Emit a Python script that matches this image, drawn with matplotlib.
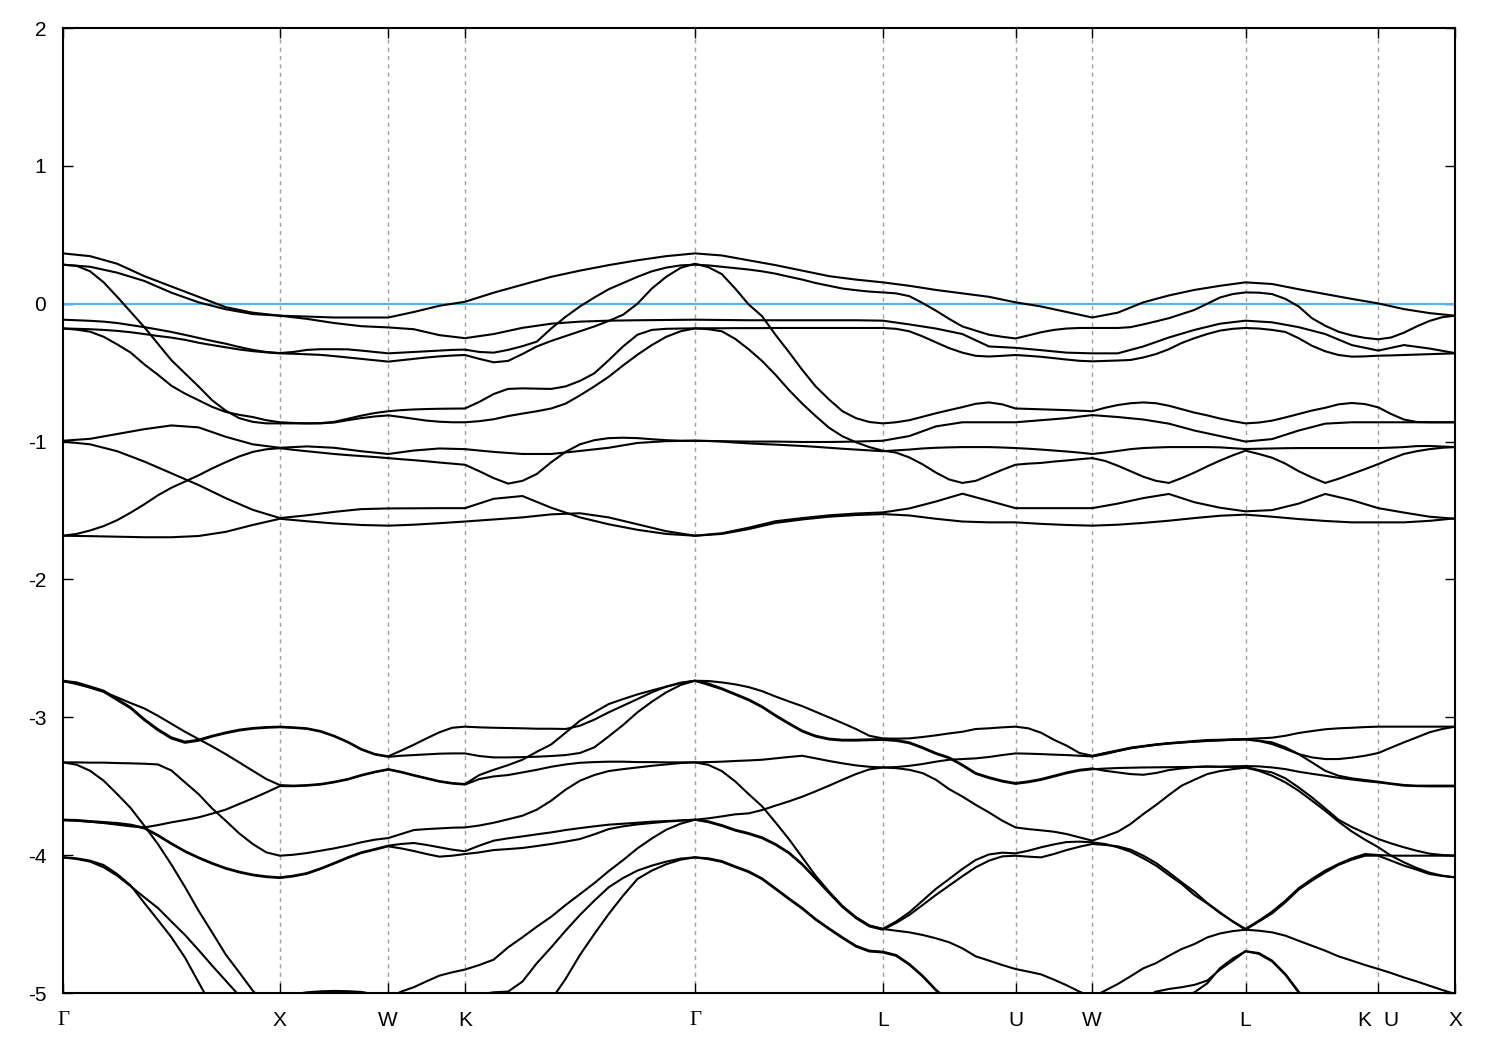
import numpy as np
import matplotlib
matplotlib.use("Agg")
import matplotlib.pyplot as plt
from matplotlib import transforms

# ---- k-path ----
kpoint_labels = ["Γ", "X", "W", "K", "Γ", "L", "U", "W", "L", "K|U", "X"]
segment_lengths = [1.0, 0.5, 0.35355, 1.06066, 0.86603, 0.61237, 0.35355, 0.70711, 0.61237, 0.35355]
coarse_samples = [8, 4, 3, 8, 7, 5, 3, 6, 5, 3]
fine_samples = [16, 8, 6, 16, 14, 10, 6, 12, 10, 6]

# ---- bands (eV) on the coarse sampling ----
up1 = [0.365, 0.345, 0.29, 0.20, 0.125, 0.05, -0.025, -0.065, -0.087,
       -0.093, -0.10, -0.10, -0.10,
       -0.06, -0.015, 0.014,
       0.08, 0.138, 0.195, 0.24, 0.28, 0.315, 0.345, 0.365,
       0.35, 0.315, 0.28, 0.24, 0.20, 0.175, 0.155,
       0.13, 0.10, 0.075, 0.05, 0.01,
       -0.02, -0.06, -0.10,
       -0.065, 0.01, 0.06, 0.10, 0.13, 0.155,
       0.143, 0.105, 0.07, 0.035, 0.002,
       -0.039, -0.068, -0.087]
up2 = [0.283, 0.268, 0.225, 0.165, 0.08, 0.01, -0.04, -0.075, -0.087,
       -0.11, -0.14, -0.163, -0.172,
       -0.185, -0.228, -0.25,
       -0.22, -0.175, -0.145, -0.13, -0.123, -0.12, -0.118, -0.116,
       -0.118, -0.12, -0.12, -0.12, -0.12, -0.12, -0.123,
       -0.15, -0.18, -0.22, -0.31, -0.32,
       -0.337, -0.355, -0.36,
       -0.36, -0.31, -0.245, -0.19, -0.145, -0.123,
       -0.135, -0.17, -0.22, -0.30, -0.34,
       -0.30, -0.325, -0.358]
up7 = [-0.994, -0.98, -0.945, -0.91, -0.883, -0.897, -0.965, -1.02, -1.045,
       -1.035, -1.045, -1.07, -1.09,
       -1.065, -1.05, -1.055,
       -1.075, -1.09, -1.09, -1.068, -1.045, -1.01, -0.997, -0.994,
       -0.997, -1.0, -1.0, -1.003, -1.003, -1.0, -0.994,
       -0.96, -0.89, -0.86, -0.86, -0.86,
       -0.845, -0.83, -0.808,
       -0.822, -0.84, -0.87, -0.92, -0.96, -1.0,
       -0.982, -0.92, -0.87, -0.86, -0.86,
       -0.86, -0.86, -0.86]
up8 = [-1.0, -1.02, -1.07, -1.145, -1.23, -1.315, -1.41, -1.495, -1.555,
       -1.535, -1.51, -1.49, -1.485,
       -1.484, -1.483, -1.483,
       -1.415, -1.395, -1.48, -1.55, -1.60, -1.64, -1.67, -1.683,
       -1.665, -1.625, -1.578, -1.555, -1.535, -1.522, -1.514,
       -1.485, -1.435, -1.378, -1.43, -1.483,
       -1.483, -1.483, -1.483,
       -1.45, -1.41, -1.38, -1.44, -1.48, -1.506,
       -1.497, -1.45, -1.38, -1.425, -1.483,
       -1.515, -1.545, -1.56]
up10 = [-1.683, -1.686, -1.69, -1.694, -1.694, -1.685, -1.655, -1.605, -1.56,
        -1.578, -1.594, -1.605, -1.61,
        -1.603, -1.592, -1.58,
        -1.565, -1.55, -1.528, -1.52, -1.55, -1.60, -1.65, -1.683,
        -1.67, -1.635, -1.59, -1.565, -1.545, -1.533, -1.526,
        -1.536, -1.56, -1.58, -1.586, -1.586,
        -1.597, -1.605, -1.61,
        -1.603, -1.59, -1.574, -1.555, -1.538, -1.53,
        -1.545, -1.562, -1.576, -1.586, -1.586,
        -1.586, -1.575, -1.557]

# ---- bands (eV) on the fine sampling ----
up3 = [0.283, 0.275, 0.235, 0.155, 0.05, -0.06, -0.17, -0.29, -0.41, -0.505, -0.60, -0.70, -0.775, -0.83, -0.857, -0.868, -0.868,
       -0.868, -0.868, -0.866, -0.857, -0.835, -0.812, -0.793, -0.78,
       -0.772, -0.767, -0.764, -0.762, -0.761, -0.76,
       -0.712, -0.655, -0.618, -0.614, -0.616, -0.618, -0.60, -0.56, -0.505, -0.41, -0.31, -0.225, -0.19, -0.182, -0.18, -0.179,
       -0.178, -0.178, -0.177, -0.177, -0.177, -0.176, -0.176, -0.176, -0.176, -0.176, -0.176, -0.176, -0.176, -0.176,
       -0.182, -0.20, -0.237, -0.28, -0.322, -0.355, -0.378, -0.383, -0.378, -0.372,
       -0.378, -0.385, -0.395, -0.405, -0.414, -0.418,
       -0.415, -0.412, -0.408, -0.39, -0.365, -0.33, -0.285, -0.25, -0.22, -0.195, -0.182, -0.176,
       -0.18, -0.19, -0.205, -0.25, -0.305, -0.345, -0.372, -0.384, -0.382, -0.377,
       -0.375, -0.372, -0.369, -0.366, -0.363, -0.36]
up4 = [-0.116, -0.12, -0.124, -0.13, -0.14, -0.155, -0.17, -0.187, -0.205, -0.226, -0.248, -0.27, -0.29, -0.314, -0.335, -0.35, -0.358,
       -0.35, -0.335, -0.33, -0.33, -0.331, -0.34, -0.35, -0.36,
       -0.355, -0.35, -0.345, -0.34, -0.335, -0.333,
       -0.35, -0.355, -0.335, -0.308, -0.275, -0.18, -0.095, -0.02, 0.045, 0.105, 0.15, 0.195, 0.235, 0.262, 0.278, 0.283,
       0.278, 0.268, 0.258, 0.248, 0.235, 0.218, 0.196, 0.175, 0.15, 0.13, 0.11, 0.098, 0.088, 0.082,
       0.075, 0.055, 0.005, -0.05, -0.11, -0.165, -0.195, -0.225, -0.24, -0.252,
       -0.23, -0.207, -0.19, -0.18, -0.176, -0.176,
       -0.176, -0.176, -0.17, -0.15, -0.128, -0.105, -0.075, -0.045, 0.0, 0.045, 0.07, 0.082,
       0.08, 0.07, 0.035, -0.02, -0.105, -0.16, -0.203, -0.23, -0.248, -0.258,
       -0.245, -0.21, -0.165, -0.125, -0.098, -0.087]
up5 = [-0.179, -0.182, -0.185, -0.19, -0.197, -0.207, -0.22, -0.234, -0.246, -0.262, -0.283, -0.30, -0.316, -0.332, -0.344, -0.353, -0.36,
       -0.363, -0.367, -0.371, -0.38, -0.39, -0.40, -0.41, -0.42,
       -0.41, -0.40, -0.39, -0.382, -0.376, -0.372,
       -0.40, -0.425, -0.415, -0.365, -0.31, -0.27, -0.235, -0.20, -0.165, -0.125, -0.08, 0.0, 0.11, 0.195, 0.26, 0.29,
       0.265, 0.215, 0.11, -0.005, -0.09, -0.225, -0.35, -0.48, -0.60, -0.695, -0.78, -0.83, -0.858, -0.868,
       -0.86, -0.845, -0.82, -0.795, -0.772, -0.75, -0.726, -0.716, -0.73, -0.76,
       -0.763, -0.766, -0.769, -0.772, -0.776, -0.78,
       -0.755, -0.735, -0.722, -0.716, -0.722, -0.74, -0.765, -0.79, -0.81, -0.833, -0.852, -0.868,
       -0.862, -0.848, -0.825, -0.80, -0.775, -0.755, -0.73, -0.72, -0.728, -0.752,
       -0.80, -0.84, -0.858, -0.86, -0.86, -0.86]
up6 = [-0.18, -0.188, -0.203, -0.24, -0.295, -0.355, -0.44, -0.515, -0.595, -0.652, -0.70, -0.748, -0.785, -0.806, -0.822, -0.845, -0.86,
       -0.865, -0.868, -0.868, -0.862, -0.845, -0.83, -0.818, -0.81,
       -0.822, -0.835, -0.848, -0.856, -0.86, -0.86,
       -0.852, -0.838, -0.815, -0.797, -0.78, -0.76, -0.725, -0.665, -0.60, -0.53, -0.448, -0.37, -0.30, -0.24, -0.20, -0.179,
       -0.185, -0.20, -0.255, -0.33, -0.415, -0.515, -0.625, -0.725, -0.815, -0.90, -0.962, -1.005, -1.04, -1.066,
       -1.08, -1.115, -1.165, -1.225, -1.275, -1.30, -1.285, -1.245, -1.205, -1.168,
       -1.16, -1.155, -1.145, -1.137, -1.128, -1.12,
       -1.14, -1.175, -1.215, -1.255, -1.285, -1.30, -1.265, -1.225, -1.18, -1.138, -1.10, -1.066,
       -1.09, -1.117, -1.16, -1.215, -1.26, -1.30, -1.27, -1.235, -1.20, -1.163,
       -1.125, -1.09, -1.07, -1.055, -1.045, -1.04]
up9 = [-1.683, -1.67, -1.645, -1.613, -1.57, -1.515, -1.455, -1.39, -1.335, -1.29, -1.245, -1.195, -1.15, -1.108, -1.075, -1.056, -1.048,
       -1.06, -1.07, -1.08, -1.09, -1.098, -1.105, -1.112, -1.12,
       -1.128, -1.135, -1.143, -1.152, -1.16, -1.168,
       -1.215, -1.265, -1.305, -1.285, -1.235, -1.15, -1.075, -1.02, -0.99, -0.975, -0.972, -0.975, -0.983, -0.99, -0.994, -0.994,
       -0.996, -1.0, -1.007, -1.013, -1.018, -1.022, -1.027, -1.032, -1.038, -1.045, -1.052, -1.058, -1.064, -1.07,
       -1.064, -1.058, -1.05, -1.045, -1.042, -1.04, -1.04, -1.04, -1.043, -1.047,
       -1.052, -1.058, -1.065, -1.072, -1.08, -1.09,
       -1.08, -1.068, -1.055, -1.047, -1.043, -1.04, -1.04, -1.04, -1.04, -1.042, -1.048, -1.054,
       -1.052, -1.05, -1.048, -1.047, -1.047, -1.047, -1.047, -1.047, -1.047, -1.047,
       -1.044, -1.04, -1.033, -1.032, -1.036, -1.04]

lo1 = [-2.735, -2.747, -2.776, -2.807, -2.868, -2.928, -3.013, -3.086, -3.146, -3.177, -3.163, -3.134, -3.11, -3.09, -3.078, -3.071, -3.068,
       -3.073, -3.08, -3.10, -3.134, -3.177, -3.23, -3.266, -3.283,
       -3.242, -3.199, -3.153, -3.109, -3.076, -3.068,
       -3.073, -3.076, -3.078, -3.08, -3.083, -3.083, -3.085, -3.061, -3.017, -2.964, -2.916, -2.868, -2.819, -2.778, -2.749, -2.735,
       -2.737, -2.747, -2.761, -2.781, -2.81, -2.849, -2.885, -2.919, -2.96, -3.001, -3.042, -3.085, -3.134, -3.153,
       -3.155, -3.153, -3.143, -3.131, -3.117, -3.105, -3.085, -3.08, -3.073, -3.068,
       -3.08, -3.112, -3.163, -3.206, -3.259, -3.279,
       -3.259, -3.24, -3.22, -3.208, -3.196, -3.187, -3.18, -3.172, -3.165, -3.163, -3.16, -3.158,
       -3.153, -3.148, -3.134, -3.114, -3.10, -3.087, -3.08, -3.076, -3.071, -3.068,
       -3.068, -3.068, -3.068, -3.068, -3.068, -3.068]
lo2 = [-2.74, -2.755, -2.785, -2.815, -2.876, -2.936, -3.021, -3.094, -3.154, -3.185, -3.17, -3.14, -3.116, -3.096, -3.083, -3.076, -3.072,
       -3.077, -3.084, -3.104, -3.138, -3.181, -3.234, -3.27, -3.287,
       -3.279, -3.274, -3.269, -3.264, -3.262, -3.262,
       -3.281, -3.291, -3.291, -3.289, -3.286, -3.281, -3.274, -3.259, -3.218, -3.139, -3.056, -2.964, -2.887, -2.819, -2.766, -2.735,
       -2.755, -2.79, -2.83, -2.87, -2.921, -2.984, -3.042, -3.097, -3.134, -3.155, -3.163, -3.163, -3.16, -3.158,
       -3.165, -3.182, -3.218, -3.259, -3.291, -3.344, -3.404, -3.435, -3.46, -3.477,
       -3.465, -3.448, -3.424, -3.40, -3.381, -3.371,
       -3.388, -3.40, -3.412, -3.417, -3.404, -3.383, -3.371, -3.361, -3.356, -3.359, -3.356, -3.354,
       -3.356, -3.364, -3.376, -3.395, -3.41, -3.424, -3.439, -3.451, -3.463, -3.472,
       -3.484, -3.496, -3.499, -3.501, -3.501, -3.501]
lo3 = [-2.735, -2.759, -2.783, -2.815, -2.856, -2.897, -2.936, -2.989, -3.047, -3.105, -3.158, -3.211, -3.267, -3.327, -3.388, -3.448, -3.492,
       -3.496, -3.492, -3.484, -3.468, -3.448, -3.419, -3.395, -3.376,
       -3.395, -3.419, -3.441, -3.463, -3.477, -3.484,
       -3.419, -3.381, -3.347, -3.308, -3.25, -3.197, -3.112, -3.025, -2.964, -2.904, -2.868, -2.834, -2.805, -2.778, -2.752, -2.735,
       -2.765, -2.796, -2.836, -2.876, -2.927, -2.99, -3.048, -3.103, -3.14, -3.161, -3.169, -3.169, -3.166, -3.164,
       -3.171, -3.188, -3.224, -3.265, -3.297, -3.35, -3.41, -3.441, -3.466, -3.483,
       -3.471, -3.454, -3.43, -3.406, -3.387, -3.377,
       -3.372, -3.368, -3.366, -3.364, -3.363, -3.362, -3.361, -3.36, -3.359, -3.359, -3.36, -3.36,
       -3.383, -3.40, -3.443, -3.509, -3.581, -3.661, -3.743, -3.796, -3.84, -3.883,
       -3.915, -3.943, -3.968, -3.989, -3.999, -4.004]
lo4 = [-3.743, -3.75, -3.757, -3.767, -3.779, -3.791, -3.799, -3.782, -3.762, -3.745, -3.726, -3.699, -3.67, -3.629, -3.588, -3.545, -3.499,
       -3.50, -3.496, -3.488, -3.472, -3.452, -3.423, -3.399, -3.38,
       -3.399, -3.423, -3.445, -3.467, -3.481, -3.488,
       -3.448, -3.429, -3.419, -3.40, -3.381, -3.359, -3.342, -3.33, -3.325, -3.322, -3.322, -3.325, -3.325, -3.327, -3.327, -3.327,
       -3.325, -3.322, -3.317, -3.313, -3.308, -3.298, -3.288, -3.279, -3.298, -3.317, -3.334, -3.349, -3.359, -3.364,
       -3.361, -3.352, -3.339, -3.322, -3.308, -3.303, -3.298, -3.288, -3.274, -3.262,
       -3.264, -3.267, -3.271, -3.274, -3.279, -3.284,
       -3.267, -3.245, -3.225, -3.211, -3.199, -3.189, -3.182, -3.177, -3.172, -3.168, -3.163, -3.16,
       -3.172, -3.194, -3.23, -3.267, -3.291, -3.303, -3.303, -3.293, -3.279, -3.259,
       -3.22, -3.182, -3.146, -3.109, -3.085, -3.068]
lo5 = [-3.327, -3.327, -3.329, -3.329, -3.332, -3.334, -3.337, -3.342, -3.386, -3.472, -3.557, -3.661, -3.75, -3.842, -3.919, -3.98, -4.004,
       -3.997, -3.985, -3.968, -3.951, -3.931, -3.907, -3.888, -3.876,
       -3.847, -3.818, -3.811, -3.806, -3.801, -3.799,
       -3.785, -3.765, -3.74, -3.714, -3.67, -3.605, -3.525, -3.46, -3.419, -3.39, -3.376, -3.364, -3.352, -3.342, -3.332, -3.327,
       -3.345, -3.39, -3.465, -3.557, -3.645, -3.762, -3.883, -4.016, -4.15, -4.265, -4.37, -4.45, -4.51, -4.535,
       -4.548, -4.56, -4.579, -4.603, -4.632, -4.676, -4.734, -4.765, -4.797, -4.826,
       -4.845, -4.865, -4.903, -4.944, -4.99, -5.031,
       -4.983, -4.935, -4.879, -4.821, -4.783, -4.73, -4.681, -4.645, -4.597, -4.568, -4.551, -4.541,
       -4.548, -4.56, -4.584, -4.621, -4.657, -4.693, -4.734, -4.765, -4.797, -4.826,
       -4.855, -4.887, -4.916, -4.947, -4.978, -5.007]
lo6 = [-3.743, -3.745, -3.753, -3.76, -3.767, -3.779, -3.801, -3.854, -3.914, -3.97, -4.016, -4.057, -4.093, -4.12, -4.141, -4.154, -4.161,
       -4.149, -4.13, -4.096, -4.057, -4.016, -3.98, -3.956, -3.931,
       -3.919, -3.912, -3.926, -3.943, -3.96, -3.972,
       -3.931, -3.895, -3.878, -3.864, -3.849, -3.835, -3.818, -3.804, -3.791, -3.779, -3.772, -3.765, -3.757, -3.753, -3.748, -3.743,
       -3.733, -3.719, -3.704, -3.697, -3.673, -3.641, -3.61, -3.576, -3.537, -3.496, -3.453, -3.412, -3.378, -3.364,
       -3.369, -3.381, -3.405, -3.453, -3.521, -3.575, -3.635, -3.69, -3.75, -3.799,
       -3.811, -3.82, -3.83, -3.847, -3.871, -3.895,
       -3.864, -3.83, -3.774, -3.702, -3.636, -3.564, -3.496, -3.453, -3.412, -3.39, -3.376, -3.366,
       -3.388, -3.424, -3.472, -3.533, -3.605, -3.678, -3.757, -3.828, -3.888, -3.943,
       -4.004, -4.052, -4.093, -4.127, -4.149, -4.161]
lo7 = [-4.016, -4.023, -4.04, -4.072, -4.137, -4.221, -4.347, -4.47, -4.596, -4.743, -4.922, -5.1, -5.3, -5.5, -5.6, -5.7, -5.8,
       -5.75, -5.7, -5.6, -5.45, -5.3, -5.2, -5.1, -5.04,
       -4.99, -4.958, -4.915, -4.874, -4.85, -4.83,
       -4.797, -4.758, -4.669, -4.596, -4.519, -4.447, -4.362, -4.283, -4.203, -4.116, -4.036, -3.951, -3.879, -3.816, -3.772, -3.743,
       -3.755, -3.782, -3.816, -3.84, -3.871, -3.919, -3.98, -4.064, -4.166, -4.27, -4.371, -4.451, -4.511, -4.535,
       -4.482, -4.415, -4.33, -4.245, -4.173, -4.10, -4.035, -3.995, -3.982, -3.987,
       -3.968, -3.943, -3.922, -3.905, -3.902, -3.907,
       -3.919, -3.943, -3.975, -4.023, -4.076, -4.144, -4.209, -4.289, -4.35, -4.42, -4.48, -4.535,
       -4.475, -4.41, -4.33, -4.24, -4.173, -4.112, -4.064, -4.023, -3.992, -3.999,
       -4.004, -4.004, -4.004, -4.004, -4.004, -4.004]
lo8 = [-4.016, -4.028, -4.047, -4.088, -4.149, -4.226, -4.306, -4.383, -4.482, -4.579, -4.688, -4.801, -4.91, -5.019, -5.12, -5.1, -5.05,
       -5.01, -4.995, -4.988, -4.985, -4.987, -4.992, -5.01, -5.03,
       -5.05, -5.08, -5.08, -5.06, -5.05, -5.03,
       -5.01, -4.995, -4.99, -4.917, -4.784, -4.669, -4.548, -4.434, -4.33, -4.233, -4.166, -4.112, -4.076, -4.047, -4.025, -4.016,
       -4.023, -4.043, -4.081, -4.117, -4.168, -4.24, -4.313, -4.383, -4.463, -4.531, -4.596, -4.657, -4.693, -4.70,
       -4.724, -4.789, -4.874, -4.975, -5.06, -5.15, -5.2, -5.25, -5.3, -5.35,
       -5.35, -5.35, -5.3, -5.3, -5.25, -5.2,
       -5.2, -5.15, -5.08, -5.03, -4.99, -4.971, -4.958, -4.941, -4.91, -4.83, -4.765, -4.697,
       -4.71, -4.765, -4.862, -4.99, -5.1, -5.2, -5.3, -5.4, -5.45, -5.5,
       -5.5, -5.5, -5.5, -5.5, -5.5, -5.5]
lo9 = [-3.327, -3.344, -3.388, -3.46, -3.557, -3.659, -3.787, -3.919, -4.069, -4.231, -4.403, -4.56, -4.72, -4.85, -4.983, -5.08, -5.2,
       -5.3, -5.4, -5.5, -5.5, -5.5, -5.5, -5.5, -5.5,
       -5.5, -5.5, -5.5, -5.5, -5.5, -5.5,
       -5.5, -5.5, -5.4, -5.3, -5.15, -5.05, -4.898, -4.724, -4.572, -4.427, -4.294, -4.173, -4.112, -4.066, -4.033, -4.016,
       -4.029, -4.049, -4.087, -4.123, -4.174, -4.246, -4.319, -4.389, -4.469, -4.537, -4.602, -4.663, -4.699, -4.706,
       -4.73, -4.795, -4.88, -4.981, -5.07, -5.16, -5.21, -5.26, -5.31, -5.36,
       -5.36, -5.36, -5.34, -5.32, -5.31, -5.3,
       -5.3, -5.25, -5.2, -5.15, -5.1, -5.06, -5.03, -4.995, -4.93, -4.82, -4.75, -4.697,
       -4.716, -4.771, -4.868, -4.996, -5.1, -5.2, -5.3, -5.4, -5.45, -5.5,
       -5.5, -5.5, -5.5, -5.5, -5.5, -5.5]
lo10 = [-3.748, -3.75, -3.758, -3.765, -3.772, -3.784, -3.806, -3.859, -3.919, -3.975, -4.021, -4.062, -4.098, -4.125, -4.146, -4.159, -4.166,
        -4.154, -4.135, -4.101, -4.062, -4.021, -3.985, -3.961, -3.936,
        -3.951, -3.97, -3.992, -4.011, -4.004, -3.992,
        -3.98, -3.963, -3.956, -3.948, -3.934, -3.919, -3.902, -3.883, -3.849, -3.811, -3.791, -3.777, -3.767, -3.757, -3.75, -3.743,
        -3.761, -3.788, -3.822, -3.846, -3.877, -3.925, -3.986, -4.07, -4.172, -4.276, -4.377, -4.457, -4.517, -4.541,
        -4.492, -4.434, -4.362, -4.289, -4.221, -4.153, -4.088, -4.04, -4.009, -4.004,
        -4.011, -4.016, -3.992, -3.963, -3.939, -3.919,
        -3.926, -3.936, -3.96, -4.004, -4.057, -4.125, -4.197, -4.265, -4.347, -4.415, -4.482, -4.541,
        -4.482, -4.422, -4.342, -4.25, -4.185, -4.125, -4.071, -4.033, -4.004, -4.004,
        -4.04, -4.076, -4.105, -4.137, -4.151, -4.161]
# partial branch on the fine sampling, starting at the second W point
lo11_start = 76
lo11 = [-3.283,
        -3.262, -3.244, -3.224, -3.212, -3.2, -3.191, -3.184, -3.176, -3.169, -3.166, -3.163, -3.161,
        -3.17, -3.182, -3.218, -3.267, -3.327, -3.388, -3.424, -3.443, -3.455, -3.467,
        -3.48, -3.491, -3.496, -3.496, -3.496, -3.496]

fermi_level = 0.0
y_ticks = [2, 1, 0, -1, -2, -3, -4, -5]

# ---- k grids ----
kp = np.concatenate([[0.0], np.cumsum(segment_lengths)])


def build_grid(samples):
    g = [kp[0]]
    for i, n in enumerate(samples):
        g.extend(np.linspace(kp[i], kp[i + 1], n + 1)[1:])
    return np.array(g)


k_coarse = build_grid(coarse_samples)
k_fine = build_grid(fine_samples)

plt.rcParams["font.family"] = ["Liberation Sans", "DejaVu Sans"]
plt.rcParams["axes.unicode_minus"] = False

fig = plt.figure(figsize=(15, 10.5), dpi=100)
ax = fig.add_axes([63 / 1500, 57 / 1050, (1455 - 63) / 1500, (993 - 28) / 1050])

for xv in kp[1:-1]:
    ax.axvline(xv, color="#a0a0a0", lw=1.0, ls=(0, (3, 3)), zorder=1)

ax.axhline(fermi_level, color="#56b4e9", lw=1.6, zorder=2)

line_kw = dict(color="black", lw=1.5, solid_joinstyle="round", zorder=3)
for b in [up1, up2, up7, up8, up10]:
    ax.plot(k_coarse, b, **line_kw)
for b in [up3, up4, up5, up6, up9, lo1, lo2, lo3, lo4, lo5, lo6, lo7, lo8, lo9, lo10]:
    ax.plot(k_fine, b, **line_kw)
ax.plot(k_fine[lo11_start:], lo11, **line_kw)

ax.set_xlim(kp[0], kp[-1])
ax.set_ylim(-5, 2)
ax.set_yticks(y_ticks)
ax.set_yticklabels([str(v) for v in y_ticks])

tick_labels = [lab if lab != "K|U" else "" for lab in kpoint_labels]
ax.set_xticks(kp)
ax.set_xticklabels(tick_labels)
for t in ax.get_xticklabels():
    if t.get_text() == "Γ":
        t.set_fontfamily(["Liberation Serif", "DejaVu Serif"])

ax.tick_params(axis="both", direction="in", length=7, width=1.0, labelsize=15,
               top=True, right=True)
ax.tick_params(axis="x", pad=13)
ax.tick_params(axis="y", pad=12)

ku = kp[kpoint_labels.index("K|U")]
trans = transforms.offset_copy(ax.get_xaxis_transform(), fig=fig, y=-13, units="points")
ax.text(ku - 0.064, 0, "K", transform=trans, ha="center", va="top", fontsize=15)
ax.text(ku + 0.060, 0, "U", transform=trans, ha="center", va="top", fontsize=15)

for s in ax.spines.values():
    s.set_linewidth(1.5)

fig.savefig("out.png", dpi=100)
